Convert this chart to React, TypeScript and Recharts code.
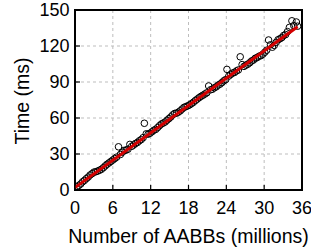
import React from 'react';
import { ScatterChart, Scatter, XAxis, YAxis, CartesianGrid, ReferenceArea } from 'recharts';

const xValues = [
  0.3, 0.6, 0.9, 1.2, 1.5, 1.8, 2.1, 2.4, 2.7, 3.0, 3.3, 3.6, 3.9, 4.2, 4.5, 4.8, 5.1, 5.4, 5.7, 6.0,
  6.3, 6.6, 6.9, 7.2, 7.5, 7.8, 8.1, 8.4, 8.7, 9.0, 9.3, 9.6, 9.9, 10.2, 10.5, 10.8, 11.0, 11.3, 11.6, 11.9,
  12.2, 12.5, 12.8, 13.1, 13.4, 13.7, 14.0, 14.3, 14.6, 14.9, 15.2, 15.5, 15.8, 16.1, 16.4, 16.7, 17.0, 17.3, 17.6, 17.9,
  18.2, 18.5, 18.8, 19.1, 19.4, 19.7, 20.0, 20.3, 20.6, 20.9, 21.2, 21.5, 21.8, 22.1, 22.4, 22.7, 23.0, 23.3, 23.6, 23.9,
  24.1, 24.4, 24.7, 25.0, 25.3, 25.6, 25.9, 26.2, 26.5, 26.8, 27.1, 27.4, 27.7, 28.0, 28.3, 28.6, 28.9, 29.2, 29.5, 29.8,
  30.1, 30.4, 30.7, 31.0, 31.3, 31.6, 31.9, 32.2, 32.5, 32.8, 33.1, 33.4, 33.7, 34.0, 34.4, 34.7, 35.1, 35.3,
];

const timeValues = [
  2.5, 3.8, 5.0, 6.8, 8.0, 9.5, 10.8, 12.5, 13.6, 14.9, 15.2, 15.8, 16.5, 17.3, 18.6, 20.1, 21.5, 22.6, 23.8, 25.0,
  26.2, 27.4, 36.0, 29.6, 31.5, 33.0, 33.2, 34.0, 38.0, 36.4, 37.5, 38.8, 39.6, 41.0, 42.0, 43.6, 55.6, 46.8, 46.5, 47.3,
  48.5, 49.8, 50.5, 52.0, 53.6, 55.0, 55.8, 56.7, 58.2, 59.5, 60.9, 62.6, 63.8, 64.0, 64.9, 66.0, 67.5, 68.9, 69.5, 70.2,
  71.0, 72.1, 73.2, 74.6, 75.8, 77.0, 78.1, 79.0, 80.0, 81.0, 86.7, 83.5, 84.0, 85.2, 86.0, 87.4, 88.2, 89.5, 91.0, 92.0,
  100.5, 95.0, 96.3, 97.5, 98.0, 99.2, 100.0, 111.0, 104.5, 103.0, 104.0, 104.8, 106.0, 107.5, 108.3, 109.8, 110.4, 111.5, 112.0, 113.2,
  114.8, 116.5, 125.0, 121.0, 119.0, 120.5, 123.0, 125.2, 126.0, 127.0, 128.8, 129.5, 132.0, 135.5, 141.0, 137.0, 140.0, 136.5,
];

const fitX = [0, 35.3];
const fitY = [2, 136];

const xTicks = [0, 6, 12, 18, 24, 30, 36];
const yTicks = [0, 30, 60, 90, 120, 150];

const points = xValues.map((x, i) => ({ x, y: timeValues[i] }));
const fitLine = fitX.map((x, i) => ({ x, y: fitY[i] }));

const FONT = 'Arial, "Liberation Sans", sans-serif';
const X_MARGIN = 11.7;
const Y_MARGIN = 5.5;
const INNER_TICK = 5;

const XTick = (props: any) => {
  const { x, y, payload } = props;
  const axisY = y - X_MARGIN;
  return (
    <g>
      <line x1={x} y1={axisY} x2={x} y2={axisY - INNER_TICK} stroke="#000" strokeWidth={1.2} />
      <text x={x} y={y} dy="0.71em" textAnchor="middle" fontSize={18} fontFamily={FONT} fill="#000">
        {payload.value}
      </text>
    </g>
  );
};

const YTick = (props: any) => {
  const { x, y, payload } = props;
  const axisX = x + Y_MARGIN;
  return (
    <g>
      <line x1={axisX} y1={y} x2={axisX + INNER_TICK} y2={y} stroke="#000" strokeWidth={1.2} />
      <text x={x} y={y} dy="0.355em" textAnchor="end" fontSize={18} fontFamily={FONT} fill="#000">
        {payload.value}
      </text>
    </g>
  );
};

const YLabel = (props: any) => {
  const vb = props.viewBox || {};
  const cx = vb.x + 29;
  const cy = vb.y + vb.height / 2 + 1;
  return (
    <text
      x={cx}
      y={cy}
      textAnchor="middle"
      fontSize={19.5}
      fontFamily={FONT}
      fill="#000"
      transform={`rotate(-90, ${cx}, ${cy})`}
    >
      Time (ms)
    </text>
  );
};

const XLabel = (props: any) => {
  const vb = props.viewBox || {};
  const cx = vb.x + vb.width / 2;
  const cy = vb.y + vb.height - 8.7;
  return (
    <text x={cx} y={cy} textAnchor="middle" fontSize={19.5} fontFamily={FONT} fill="#000">
      Number of AABBs (millions)
    </text>
  );
};

const CircleShape = (props: any) => (
  <circle cx={props.cx} cy={props.cy} r={3.3} fill="none" stroke="#000" strokeWidth={1} />
);

const NoShape = () => <g />;

export default function App() {
  return (
    <div style={{ position: 'absolute', left: 0, top: 0, background: '#fff' }}>
      <ScatterChart width={311} height={252} margin={{ top: 10, right: 9, bottom: 0, left: 0 }}>
        <CartesianGrid stroke="#bdbdbd" strokeDasharray="3 3" strokeWidth={1} />
        <XAxis
          type="number"
          dataKey="x"
          domain={[0, 36]}
          ticks={xTicks}
          height={62}
          tickSize={0}
          tickMargin={X_MARGIN}
          axisLine={false}
          tickLine={false}
          tick={<XTick />}
          interval={0}
          allowDataOverflow
          label={{ content: <XLabel /> }}
        />
        <YAxis
          type="number"
          dataKey="y"
          domain={[0, 150]}
          ticks={yTicks}
          width={75}
          tickSize={0}
          tickMargin={Y_MARGIN}
          axisLine={false}
          tickLine={false}
          tick={<YTick />}
          interval={0}
          allowDataOverflow
          label={{ content: <YLabel /> }}
        />
        <Scatter data={points} shape={<CircleShape />} isAnimationActive={false} />
        <Scatter
          data={fitLine}
          shape={<NoShape />}
          line={{ stroke: '#d40000', strokeWidth: 3 }}
          isAnimationActive={false}
        />
        <ReferenceArea x1={0} x2={36} y1={0} y2={150} fill="none" stroke="#000" strokeWidth={2} ifOverflow="visible" />
      </ScatterChart>
    </div>
  );
}
